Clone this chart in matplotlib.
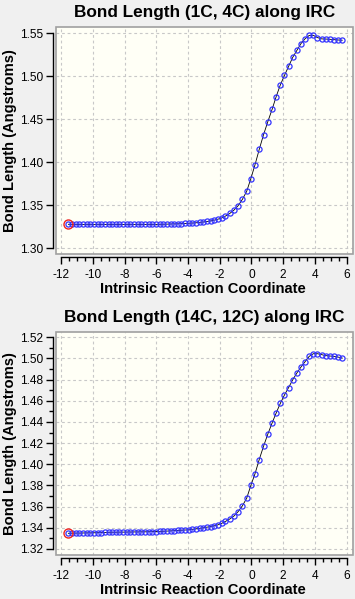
import matplotlib
matplotlib.use("Agg")
import matplotlib.pyplot as plt
from matplotlib.patches import Rectangle
from matplotlib.ticker import MultipleLocator, FormatStrFormatter

plt.rcParams['font.family'] = ['Liberation Sans', 'DejaVu Sans']
plt.rcParams['axes.unicode_minus'] = False

# IRC coordinate of each point
irc = [-11.54, -11.31, -11.08, -10.85, -10.62, -10.39, -10.16, -9.93, -9.70, -9.47,
       -9.24, -9.01, -8.78, -8.55, -8.32, -8.09, -7.86, -7.63, -7.40, -7.17,
       -6.94, -6.71, -6.48, -6.25, -6.02, -5.79, -5.56, -5.33, -5.10, -4.87,
       -4.64, -4.41, -4.18, -3.95, -3.72, -3.49, -3.26, -3.03, -2.80, -2.57,
       -2.34, -2.11, -1.88, -1.64, -1.37, -1.10, -0.84, -0.57, -0.30, -0.04,
       0.22, 0.49, 0.76, 1.03, 1.30, 1.56, 1.82, 2.08, 2.34, 2.60,
       2.86, 3.12, 3.38, 3.64, 3.90, 4.16, 4.42, 4.68, 4.94, 5.20,
       5.46, 5.72]

# bond length 1C-4C
bond_1c4c = [1.3279, 1.3278, 1.3278, 1.3278, 1.3278, 1.3278, 1.3278, 1.3278, 1.3278, 1.3278,
             1.3278, 1.3278, 1.3278, 1.3278, 1.3278, 1.3278, 1.3278, 1.3278, 1.3278, 1.3278,
             1.3278, 1.3278, 1.3278, 1.3278, 1.3278, 1.3279, 1.3280, 1.3281, 1.3283, 1.3284,
             1.3285, 1.3287, 1.3289, 1.3291, 1.3294, 1.3297, 1.3301, 1.3306, 1.3312, 1.3319,
             1.3328, 1.3339, 1.3353, 1.3375, 1.3405, 1.3445, 1.3496, 1.3570, 1.3663, 1.3810,
             1.3969, 1.4150, 1.4320, 1.4472, 1.4615, 1.4765, 1.4900, 1.5010, 1.5115, 1.5220,
             1.5300, 1.5380, 1.5437, 1.5475, 1.5476, 1.5450, 1.5435, 1.5433, 1.5430, 1.5426,
             1.5422, 1.5419]

# bond length 14C-12C
bond_14c12c = [1.3348, 1.3349, 1.3350, 1.3350, 1.3351, 1.3352, 1.3352, 1.3353, 1.3354, 1.3355,
               1.3356, 1.3357, 1.3358, 1.3358, 1.3359, 1.3359, 1.3360, 1.3360, 1.3361, 1.3361,
               1.3362, 1.3362, 1.3363, 1.3364, 1.3365, 1.3366, 1.3367, 1.3369, 1.3371, 1.3373,
               1.3375, 1.3377, 1.3379, 1.3381, 1.3385, 1.3390, 1.3395, 1.3400, 1.3406, 1.3412,
               1.3419, 1.3428, 1.3442, 1.3460, 1.3483, 1.3512, 1.3553, 1.3608, 1.3680, 1.3800,
               1.3909, 1.4045, 1.4170, 1.4285, 1.4390, 1.4486, 1.4576, 1.4655, 1.4725, 1.4798,
               1.4862, 1.4919, 1.4970, 1.5020, 1.5045, 1.5045, 1.5036, 1.5027, 1.5023, 1.5020,
               1.5013, 1.5004]

titles = ['Bond Length (1C, 4C) along IRC', 'Bond Length (14C, 12C) along IRC']

fig = plt.figure(figsize=(3.55, 5.99), dpi=100, facecolor='#f0f0f0')


def irc_panel(rect, y, title, ylim, ybounds, ymajor, yminor):
    ax = fig.add_axes(rect, facecolor='#fffff6')
    ax.plot(irc, y, '-', color='black', lw=0.6, zorder=2)
    ax.plot(irc, y, 'o', ms=3.7, mfc='none', mec='#3434ff', mew=0.9, zorder=3)
    # highlighted current point
    ax.plot(irc[0], y[0], 'o', ms=6.5, mfc='none', mec='#ee2222', mew=1.0, zorder=4)

    ax.set_xlim(-12.32, 6.40)
    ax.set_ylim(*ylim)

    # grey frame around plot area
    ax.add_patch(Rectangle((0, 0), 1, 1, transform=ax.transAxes, fill=False,
                           edgecolor='#a0a0a0', lw=1.2, clip_on=False, zorder=5))
    for s in ['top', 'right']:
        ax.spines[s].set_visible(False)
    ax.spines['left'].set_position(('outward', 2.4))
    ax.spines['bottom'].set_position(('outward', 2.0))
    ax.spines['left'].set_bounds(*ybounds)
    ax.spines['bottom'].set_bounds(-12, 6)
    for s in ['left', 'bottom']:
        ax.spines[s].set_linewidth(1.0)

    ax.xaxis.set_major_locator(MultipleLocator(2))
    ax.xaxis.set_minor_locator(MultipleLocator(0.5))
    ax.yaxis.set_major_locator(MultipleLocator(ymajor))
    if yminor:
        ax.yaxis.set_minor_locator(MultipleLocator(yminor))
    ax.yaxis.set_major_formatter(FormatStrFormatter('%.2f'))
    ax.tick_params(axis='both', which='major', length=5, width=1, labelsize=8.6)
    ax.tick_params(axis='both', which='minor', length=3, width=1)
    ax.tick_params(axis='y', pad=1.5)
    ax.tick_params(axis='x', pad=3.5)

    ax.grid(True, which='major', color='#c8c8c8', linestyle=(0, (2.5, 2.5)), lw=0.8)
    ax.set_axisbelow(True)

    ax.set_title(title, fontsize=12.4, fontweight='bold', pad=7.2)
    ax.set_xlabel('Intrinsic Reaction Coordinate', fontsize=10.6, fontweight='bold', va='center')
    ax.xaxis.set_label_coords(0.493, -0.155)
    ax.set_ylabel('Bond Length (Angstroms)', fontsize=10.6, fontweight='bold', va='center')
    ax.yaxis.set_label_coords(-0.156, 0.5)
    return ax


irc_panel([56 / 355, 1 - 254 / 599, 297 / 355, 227 / 599], bond_1c4c, titles[0],
          (1.2934, 1.5573), (1.30, 1.55), 0.05, None)
irc_panel([56 / 355, 1 - 555 / 599, 297 / 355, 223 / 599], bond_14c12c, titles[1],
          (1.3143, 1.5250), (1.32, 1.52), 0.02, 0.01)

fig.savefig('out.png', dpi=100, facecolor=fig.get_facecolor())
